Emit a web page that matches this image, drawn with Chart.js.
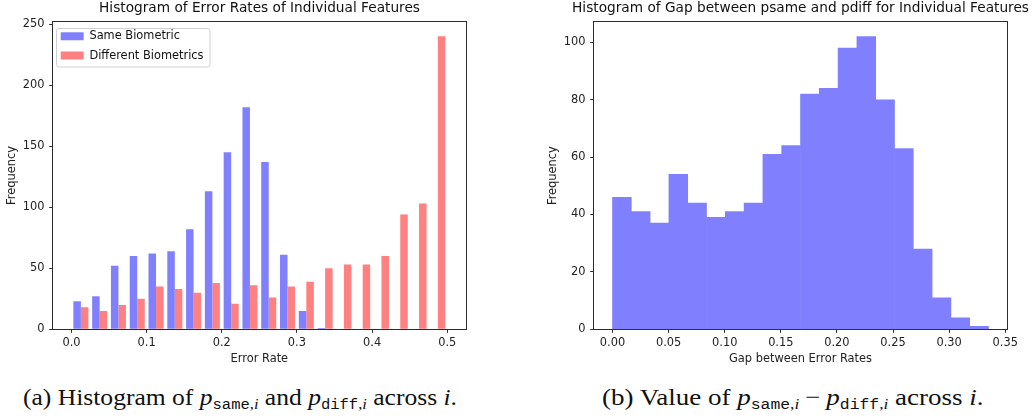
<!DOCTYPE html>
<html>
<head>
<meta charset="utf-8">
<script src="https://cdn.jsdelivr.net/npm/chart.js@4.4.1/dist/chart.umd.min.js"></script>
<style>
  html, body { margin: 0; padding: 0; background: #fff; }
  body { width: 1032px; height: 418px; overflow: hidden; position: relative; }
  canvas { position: absolute; top: 0; }
  #histA { left: 0; }
  #histB { left: 520px; }
  .cap {
    position: absolute; top: 384.5px; line-height: 24px; white-space: nowrap;
    font-family: 'Liberation Serif', 'DejaVu Serif', serif; font-size: 24px; color: #111;
    transform-origin: 0 50%;
  }
  .cap i { font-style: italic; }
  .cap sub { font-size: 0.64em; vertical-align: -0.28em; line-height: 0; }
  .cap tt { font-family: 'Liberation Mono', 'DejaVu Sans Mono', monospace; font-size: 0.95em; }
  .cap .op { margin: 0 0.22em; }
</style>
</head>
<body>
<canvas id="histA" width="519" height="370"></canvas>
<canvas id="histB" width="561" height="370"></canvas>
<div class="cap" id="capA" style="left:23px">(a) Histogram of <i>p</i><sub><tt>same</tt>,<i>i</i></sub> and <i>p</i><sub><tt>diff</tt>,<i>i</i></sub> across <i>i</i>.</div>
<div class="cap" id="capB" style="left:602px">(b) Value of <i>p</i><sub><tt>same</tt>,<i>i</i></sub><span class="op">&minus;</span><i>p</i><sub><tt>diff</tt>,<i>i</i></sub> across <i>i</i>.</div>
<script>
// left panel: error rates, 20 bins of width 0.025
const errorBinCenters = [0.0125, 0.0375, 0.0625, 0.0875, 0.1125, 0.1375, 0.1625, 0.1875, 0.2125, 0.2375,
                         0.2625, 0.2875, 0.3125, 0.3375, 0.3625, 0.3875, 0.4125, 0.4375, 0.4625, 0.4875];
const sameCounts = [23, 27, 52, 60, 62, 64, 82, 113, 145, 182, 137, 61, 15, 1, 0, 0, 0, 0, 0, 0];
const diffCounts = [18, 15, 20, 25, 35, 33, 30, 38, 21, 36, 26, 35, 39, 50, 53, 53, 60, 94, 103, 240];
const errorTicks = [0, 0.1, 0.2, 0.3, 0.4, 0.5];
const freqTicksA = [0, 50, 100, 150, 200, 250];

// right panel: gap psame - pdiff, 20 bins
const gapBinCenters = [0.00838, 0.02513, 0.04189, 0.05864, 0.07540, 0.09215, 0.10891, 0.12566, 0.14242, 0.15917,
                       0.17593, 0.19268, 0.20944, 0.22619, 0.24295, 0.25970, 0.27646, 0.29321, 0.30997, 0.32672];
const gapCounts = [46, 41, 37, 54, 44, 39, 41, 44, 61, 64, 82, 84, 98, 102, 80, 63, 28, 11, 4, 1];
const gapTicks = [0, 0.05, 0.10, 0.15, 0.20, 0.25, 0.30, 0.35];
const freqTicksB = [0, 20, 40, 60, 80, 100];

const BLUE = '#8080ff';
const RED = '#ff8080';
const INK = '#2b2b2b';
const TICK_LEN = 3.5;
const TICK_FONT = { family: "'DejaVu Sans', sans-serif", size: 11.4 };

Chart.defaults.font.family = "'DejaVu Sans', sans-serif";
Chart.defaults.color = '#222';

// rounded frame behind the legend
Chart.register({
    id: 'legendFrame',
    beforeDraw(chart) {
        const lg = chart.legend;
        if (!lg || !lg.options.display || !lg.legendHitBoxes || !lg.legendHitBoxes.length) return;
        let l = Infinity, t = Infinity, r = -Infinity, b = -Infinity;
        lg.legendHitBoxes.forEach(h => {
            l = Math.min(l, h.left); t = Math.min(t, h.top);
            r = Math.max(r, h.left + h.width); b = Math.max(b, h.top + h.height);
        });
        const x = Math.round(l - 4.3) + 0.5, y = Math.round(t - 2.6) + 0.5;
        const w = Math.round(r + 6) - x, h = Math.round(b + 6) - y;
        const ctx = chart.ctx;
        ctx.save();
        ctx.fillStyle = '#fff';
        ctx.strokeStyle = '#d0d0d0';
        ctx.lineWidth = 1;
        ctx.beginPath();
        if (ctx.roundRect) ctx.roundRect(x, y, w, h, 2.5); else ctx.rect(x, y, w, h);
        ctx.fill();
        ctx.stroke();
        ctx.restore();
    }
});

function fixedTicks(list) {
    return function (scale) { scale.ticks = list.map(v => ({ value: v })); };
}

// tickless axis that only draws one side of the box
function spineAxis(position, size) {
    return {
        type: 'linear', position: position, display: true,
        afterFit: s => { if (position === 'top') s.height = size; else s.width = size; },
        grid: { display: false },
        border: { display: true, color: INK, width: 1 },
        ticks: { display: false }
    };
}

function makeHist(id, o) {
    return new Chart(document.getElementById(id), {
        type: 'bar',
        data: { datasets: o.datasets },
        options: {
            responsive: false,
            animation: false,
            layout: { padding: 0 },
            datasets: { bar: { borderWidth: 0, barPercentage: 1, categoryPercentage: o.catPct } },
            plugins: {
                tooltip: { enabled: false },
                title: {
                    display: true, text: o.title, color: '#111',
                    font: { size: 13.7, weight: 'normal' },
                    padding: { top: 0, bottom: o.titleGap }
                },
                legend: o.legend ? {
                    display: true, position: 'chartArea', align: 'start',
                    // empty legend title only pushes the entries below the plot top
                    title: { display: true, text: '', font: { size: 10, lineHeight: 1.2 }, padding: 5.25 },
                    labels: { boxWidth: 23, boxHeight: 8, padding: 8, font: TICK_FONT, color: '#111' }
                } : { display: false }
            },
            scales: {
                x: {
                    type: 'linear', offset: false,
                    min: o.xMin, max: o.xMax,
                    afterBuildTicks: fixedTicks(o.xTicks),
                    afterFit: s => { s.height = 370 - 329.3; },
                    grid: { offset: false, drawOnChartArea: false, drawTicks: true, tickLength: TICK_LEN, color: INK, lineWidth: 1 },
                    border: { display: true, color: INK, width: 1 },
                    ticks: { font: TICK_FONT, color: '#222', padding: 3, maxRotation: 0, autoSkip: false,
                             callback: v => v.toFixed(o.xDec) },
                    title: { display: true, text: o.xLabel, font: TICK_FONT, color: '#222', padding: { top: 0, bottom: 4.2 } }
                },
                y: {
                    type: 'linear', position: 'left',
                    min: 0, max: o.yMax,
                    afterBuildTicks: fixedTicks(o.yTicks),
                    afterFit: s => { s.width = o.yWidth; },
                    grid: { drawOnChartArea: false, drawTicks: true, tickLength: TICK_LEN, color: INK, lineWidth: 1 },
                    border: { display: true, color: INK, width: 1 },
                    ticks: { font: TICK_FONT, color: '#222', padding: 4.7, callback: v => String(v) },
                    title: { display: true, text: 'Frequency', font: TICK_FONT, color: '#222', padding: { top: o.yTitlePad, bottom: 0 } }
                },
                // right spine; its width also keeps the title centred over the plot
                y2: spineAxis('right', o.rightWidth),
                x2: spineAxis('top', 0)
            }
        }
    });
}

makeHist('histA', {
    title: 'Histogram of Error Rates of Individual Features',
    titleGap: 5.26,
    legend: true,
    catPct: 0.8,
    datasets: [
        { label: 'Same Biometric', backgroundColor: BLUE,
          data: errorBinCenters.map((x, i) => ({ x: x, y: sameCounts[i] })) },
        { label: 'Different Biometrics', backgroundColor: RED,
          data: errorBinCenters.map((x, i) => ({ x: x, y: diffCounts[i] })) }
    ],
    xMin: -0.025, xMax: 0.525, xTicks: errorTicks, xDec: 1, xLabel: 'Error Rate',
    yMax: 252, yTicks: freqTicksA,
    yWidth: 52.7, rightWidth: 519 - 466, yTitlePad: 5.5
});

makeHist('histB', {
    title: 'Histogram of Gap between psame and pdiff for Individual Features',
    titleGap: 5.56,
    legend: false,
    catPct: 1,
    datasets: [
        { label: 'gap', backgroundColor: BLUE,
          data: gapBinCenters.map((x, i) => ({ x: x, y: gapCounts[i] })) }
    ],
    xMin: -0.016755, xMax: 0.351855, xTicks: gapTicks, xDec: 2, xLabel: 'Gap between Error Rates',
    yMax: 107.1, yTicks: freqTicksB,
    yWidth: 73.7, rightWidth: 73.7, yTitlePad: 26.5
});

// stretch the captions to the width of the typeset originals
[['capA', 434], ['capB', 381.6]].forEach(([id, target]) => {
    const el = document.getElementById(id);
    el.style.transform = 'scaleX(' + (target / el.getBoundingClientRect().width) + ')';
});
</script>
</body>
</html>
